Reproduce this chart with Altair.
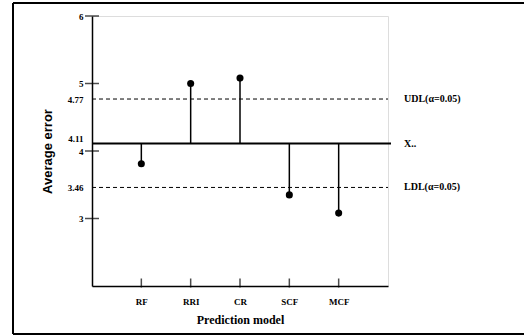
import altair as alt
import pandas as pd

models = ["RF", "RRI", "CR", "SCF", "MCF"]
model_pos = [1, 2, 3, 4, 5]
errors = [3.81, 5.00, 5.08, 3.35, 3.08]
grand_mean = 4.11
udl = 4.77
ldl = 3.46
y_ticks = [3, 4, 5, 6]
y_label_values = [3, 3.46, 4, 4.11, 4.77, 5, 6]
ref_labels = ["UDL(\u03b1=0.05)", "X..", "LDL(\u03b1=0.05)"]
ref_values = [udl, grand_mean, ldl]
ref_dash = [True, False, True]

pts = pd.DataFrame({"model": models, "pos": model_pos, "err": errors, "mean": [grand_mean] * 5})
refs = pd.DataFrame({"label": ref_labels, "val": ref_values, "dash": ref_dash})
yt = pd.DataFrame({"v": y_ticks})
xt = pd.DataFrame({"p": model_pos})

label_expr = "{1:'RF',2:'RRI',3:'CR',4:'SCF',5:'MCF'}[datum.value] || ''"

xs = alt.Scale(domain=[0, 6], nice=False, zero=False)
ys = alt.Scale(domain=[2, 6], nice=False, zero=False)

x_axis = alt.Axis(values=model_pos, labelExpr=label_expr, title="Prediction model",
                  grid=False, ticks=False, labelPadding=11, labelFont="Liberation Serif",
                  labelFontWeight="bold", labelFontSize=9, titleFont="Liberation Serif",
                  titleFontWeight="bold", titleFontSize=12, titlePadding=8,
                  domainColor="black", domainWidth=1.5, labelColor="black", titleColor="black")
y_axis = alt.Axis(values=y_label_values, labelExpr="'' + datum.value", title="Average error",
                  grid=False, ticks=False,
                  labelPadding=9, labelOverlap=False, labelFont="Liberation Serif",
                  labelFontWeight="bold", labelFontSize=9,
                  labelBaseline={"condition": {"test": "datum.value == 4.11", "value": "bottom"}, "value": "middle"},
                  titleFont="Liberation Sans", titleFontWeight="bold", titleFontSize=13,
                  titlePadding=13, domainColor="black", domainWidth=1.5,
                  labelColor="black", titleColor="black")

base = alt.Chart(pts)

frame_top = alt.Chart(pts).mark_rule(color="black", strokeWidth=1.5).encode(
    x=alt.value(-79), x2=alt.value(440), y=alt.value(-13))
frame_bottom = alt.Chart(pts).mark_rule(color="black", strokeWidth=1.5).encode(
    x=alt.value(-79), x2=alt.value(440), y=alt.value(318))
frame_left = alt.Chart(pts).mark_rule(color="black", strokeWidth=1.5).encode(
    x=alt.value(-79), y=alt.value(-13), y2=alt.value(318))

dashed = alt.Chart(refs).transform_filter("datum.dash").mark_rule(
    color="black", strokeDash=[4, 3], strokeWidth=1).encode(
    y=alt.Y("val:Q", scale=ys, axis=y_axis), x=alt.value(0), x2=alt.value(296))

mean_line = alt.Chart(refs).transform_filter("!datum.dash").mark_rule(
    color="black", strokeWidth=2).encode(
    y=alt.Y("val:Q", scale=ys), x=alt.value(0), x2=alt.value(299))

ref_text = alt.Chart(refs).mark_text(align="left", baseline="middle", font="Liberation Serif",
                                     fontWeight="bold", fontSize=10, color="black").encode(
    y=alt.Y("val:Q", scale=ys), x=alt.value(312), text="label:N")

stems = base.mark_rule(color="black", strokeWidth=1.5).encode(
    x=alt.X("pos:Q", scale=xs, axis=x_axis), y=alt.Y("mean:Q", scale=ys), y2="err:Q")

dots = base.mark_circle(color="black", size=50, opacity=1).encode(
    x=alt.X("pos:Q", scale=xs), y=alt.Y("err:Q", scale=ys))

yticks = alt.Chart(yt).mark_tick(orient="horizontal", color="black", size=14, thickness=1.5).encode(
    y=alt.Y("v:Q", scale=ys), x=alt.value(0))

xticks = alt.Chart(xt).mark_tick(orient="vertical", color="black", size=9, thickness=1.5).encode(
    x=alt.X("p:Q", scale=xs), y=alt.value(267))

chart = alt.layer(frame_top, frame_bottom, frame_left, dashed, mean_line, ref_text,
                  stems, dots, yticks, xticks).properties(
    width=296, height=270,
    autosize=alt.AutoSizeParams(type="none"),
    padding={"left": 92, "top": 16, "right": 136, "bottom": 49},
).configure_view(stroke=None).configure(background="white")

chart.save("out.html", embed_options={"renderer": "svg", "actions": False})
